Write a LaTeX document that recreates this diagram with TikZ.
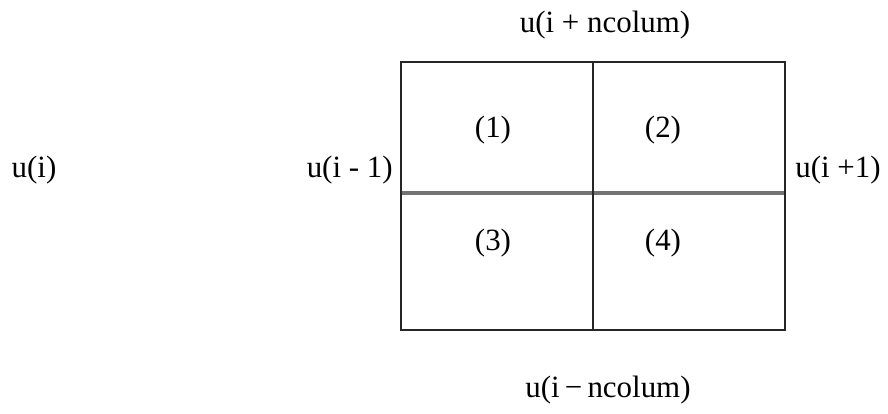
\documentclass[tikz,border=0pt]{standalone}
\usepackage{fontspec}
\setmainfont{Liberation Serif}
\usetikzlibrary{positioning}

\begin{document}
\begin{tikzpicture}[
  x=0.02cm, y=-0.02cm,
  every node/.style={font=\fontsize{17.6}{20}\selectfont, inner sep=0pt},
  grid/.style={draw=black!85, line width=1.2pt},
  mid/.style={draw=black!55, line width=1.8pt}
]
\useasboundingbox (0,0) rectangle (888,413);

% the four cells
\coordinate (nw) at (401,62);
\coordinate (se) at (785,330);
\draw[mid]  (401,193) -- (785,193);
\draw[grid] (593,62) -- (593,330);
\draw[grid] (nw) rectangle (se);

\node (c1) at (493,130) {(1)};
\node (c2) at (663,130) {(2)};
\node (c3) at (493,243) {(3)};
\node (c4) at (663,243) {(4)};

% neighbours
\node (top)    at (605,25)  {u(i + ncolum)};
\node (bottom) at (608,390) {u(i\,−\,ncolum)};
\node[anchor=east] (left)  at (393,170) {u(i - 1)};
\node[anchor=west] (right) at (795,170) {u(i +1)};
\node (ui) at (34,170) {u(i)};
\end{tikzpicture}
\end{document}
